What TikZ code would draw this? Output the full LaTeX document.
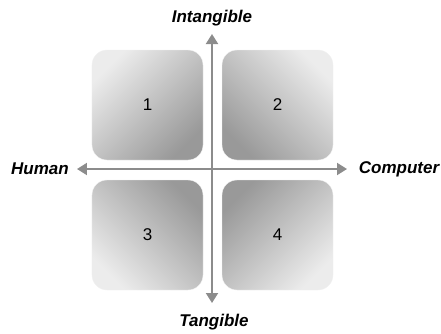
\documentclass[tikz,border=0pt]{standalone}
\usepackage{fontspec}
\setmainfont{Liberation Sans}
\usetikzlibrary{arrows.meta}

\tikzset{
	quad/.style={rounded corners=15pt, minimum width=111pt, minimum height=110pt,
		inner sep=0pt, top color=gray!15, bottom color=gray!80, draw=gray!10,
		font=\fontsize{17}{17}\selectfont},
	axislabel/.style={font=\bfseries\itshape\fontsize{17}{17}\selectfont},
	axis/.style={draw=gray!90, line width=2pt, -{Triangle[length=10pt,width=12pt]}}
}

\begin{document}
\begin{tikzpicture}[x=1pt, y=1pt]
			
			\useasboundingbox (-212,-164) rectangle (229,169);
			
			% the four quadrants, darkest towards the origin
			\node[quad, shading angle=45]   (q1) at (-64.5,64)  {1};
			\node[quad, shading angle=-45]  (q2) at (65.5,64)   {2};
			\node[quad, shading angle=135]  (q3) at (-64.5,-66) {3};
			\node[quad, shading angle=-135] (q4) at (65.5,-66)  {4};
			
			\coordinate (O) at (0,0);
			\coordinate (up) at (0,135);
			\coordinate (down) at (0,-134);
			\coordinate (left) at (-135,0);
			\coordinate (right) at (135,0);
			
			\draw[axis] (O) -- (up);
			\draw[axis] (O) -- (down);
			\draw[axis] (O) -- (left);
			\draw[axis] (O) -- (right);
			
			\node[axislabel] (intangible) at (0,151)  {Intangible};
			\node[axislabel] (tangible)   at (2,-153) {Tangible};
			\node[axislabel] (human)      at (-172,0) {Human};
			\node[axislabel] (computer)   at (187,0)  {Computer};
			
\end{tikzpicture}
\end{document}
